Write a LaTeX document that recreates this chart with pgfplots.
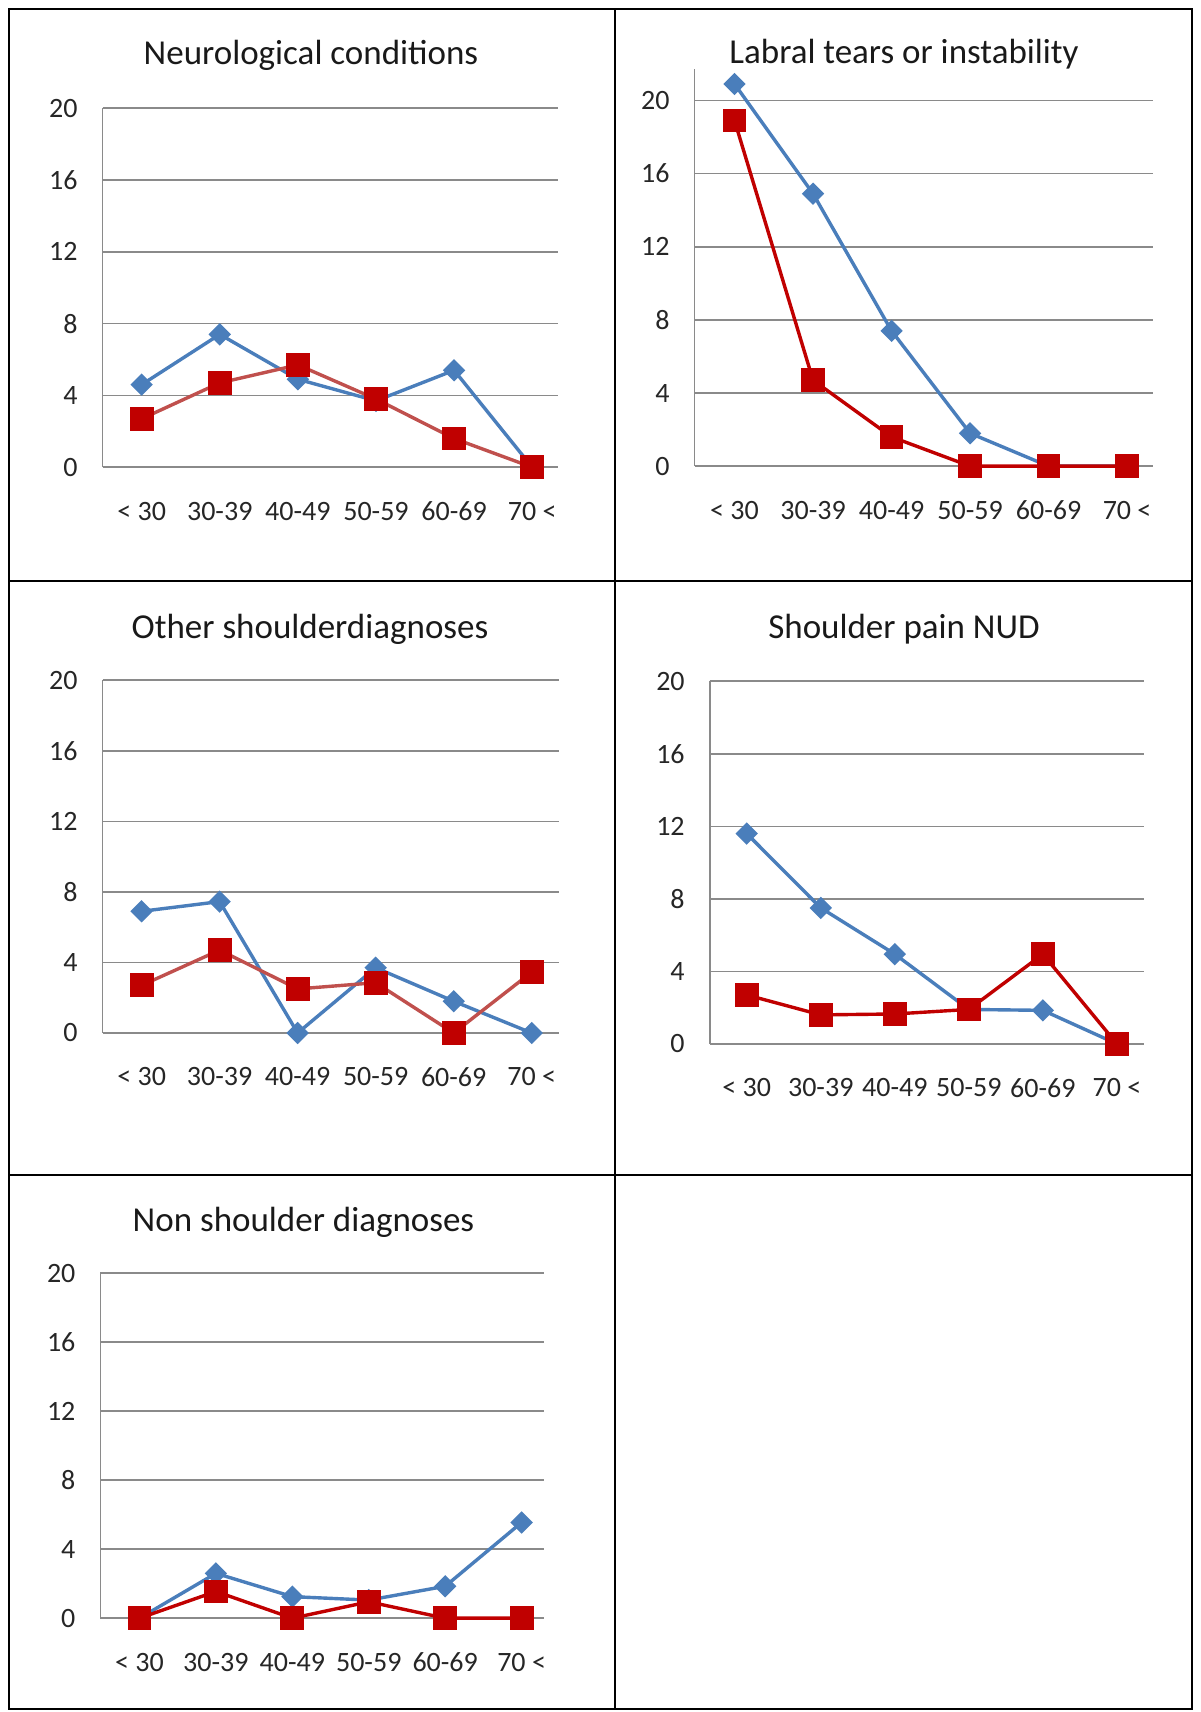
\documentclass[border=0pt]{standalone}
\usepackage{fontspec}
\setmainfont{Carlito}
\usepackage{pgfplots}
\pgfplotsset{compat=1.18}
\definecolor{xblue}{HTML}{4A7EBB}
\definecolor{xred}{HTML}{C00000}
\definecolor{xredl}{HTML}{C0504D}
\definecolor{xgrid}{HTML}{8A8A8A}
\pgfplotsset{
 panel/.style={
   scale only axis, clip=false,
   ymin=0, ytick={0,4,...,20},
   xtick={0,...,5}, xticklabels={{< 30},{30-39},{40-49},{50-59},{60-69},{70 <}},
   axis x line*=bottom, axis y line*=left,
   axis line style={xgrid, line width=0.8pt, -},
   ymajorgrids, grid style={xgrid, line width=0.8pt},
   major tick length=0pt,
   tick style={draw=none},
   ticklabel style={font=\fontsize{14}{16}\selectfont, text=black!85},
   xticklabel style={anchor=center, yshift=-22pt},
   yticklabel style={anchor=east, xshift=-9pt},
   /pgf/number format/assume math mode=true,
 },
 bl/.style={xblue, line width=1.7pt, mark=square*, mark size=3.1pt, mark options={rotate=45, fill=xblue, draw=xblue}},
 rd/.style={#1, line width=1.7pt, mark=square*, mark size=5.1pt, mark options={fill=xred, draw=xred}},
}
\newcommand{\ttl}{\fontsize{17.5}{21}\selectfont}
\begin{document}
\begin{tikzpicture}[x=0.5pt,y=0.5pt]
\useasboundingbox (0,0) rectangle (1200,1712);
% table grid
\draw[line width=1pt] (8.7,3.2) rectangle (1192.4,1703.3);
\draw[line width=1pt] (614.7,3.2) -- (614.7,1703.3);
\draw[line width=1pt] (8.7,1131.1) -- (1192.4,1131.1);
\draw[line width=1pt] (8.7,537.1) -- (1192.4,537.1);

% Panel 1
\begin{axis}[panel, at={(51.3pt,622.35pt)}, anchor=south west, width=227.7pt, height=179.6pt,
  xmin=-0.5, xmax=5.33, ymax=20]
\addplot[bl] coordinates {(0,4.6) (1,7.4) (2,4.9) (3,3.7) (4,5.4) (5,0)};
\addplot[rd=xredl] coordinates {(0,2.7) (1,4.7) (2,5.7) (3,3.8) (4,1.6) (5,0)};
\end{axis}
\node[font=\ttl, text=black!90] at (311,1656.3) {Neurological conditions};

% Panel 2
\begin{axis}[panel, at={(347.25pt,622.9pt)}, anchor=south west, width=229.25pt, height=198.4pt,
  xmin=-0.51, xmax=5.33, ymax=21.7]
\addplot[bl] coordinates {(0,20.9) (1,14.9) (2,7.4) (3,1.8) (4,0) (5,0)};
\addplot[rd=xred] coordinates {(0,18.9) (1,4.7) (2,1.6) (3,0) (4,0) (5,0)};
\end{axis}
\node[font=\ttl, text=black!90] at (904,1657.4) {Labral tears or instability};

% Panel 3
\begin{axis}[panel, at={(51.3pt,339.5pt)}, anchor=south west, width=228.2pt, height=176.35pt,
  xmin=-0.5, xmax=5.35, ymax=20]
\addplot[bl] coordinates {(0,6.9) (1,7.45) (2,0) (3,3.7) (4,1.8) (5,0)};
\addplot[rd=xredl] coordinates {(0,2.7) (1,4.7) (2,2.5) (3,2.85) (4,0) (5,3.45)};
\end{axis}
\node[font=\ttl, text=black!90] at (310,1083) {Other shoulderdiagnoses};

% Panel 4
\begin{axis}[panel, at={(354.85pt,334.05pt)}, anchor=south west, width=217.3pt, height=181.3pt,
  xmin=-0.5, xmax=5.37, ymax=20]
\addplot[bl] coordinates {(0,11.6) (1,7.5) (2,4.95) (3,1.9) (4,1.85) (5,0)};
\addplot[rd=xred] coordinates {(0,2.7) (1,1.6) (2,1.65) (3,1.9) (4,4.95) (5,0)};
\end{axis}
\node[font=\ttl, text=black!90] at (904,1083) {Shoulder pain NUD};

% Panel 5
\begin{axis}[panel, at={(50.25pt,46.9pt)}, anchor=south west, width=221.65pt, height=172.5pt,
  xmin=-0.51, xmax=5.29, ymax=20]
\addplot[bl] coordinates {(0,0) (1,2.6) (2,1.25) (3,1.05) (4,1.85) (5,5.55)};
\addplot[rd=xred] coordinates {(0,0) (1,1.55) (2,0) (3,0.95) (4,0) (5,0)};
\end{axis}
\node[font=\ttl, text=black!90] at (303.5,490.1) {Non shoulder diagnoses};
\end{tikzpicture}
\end{document}
